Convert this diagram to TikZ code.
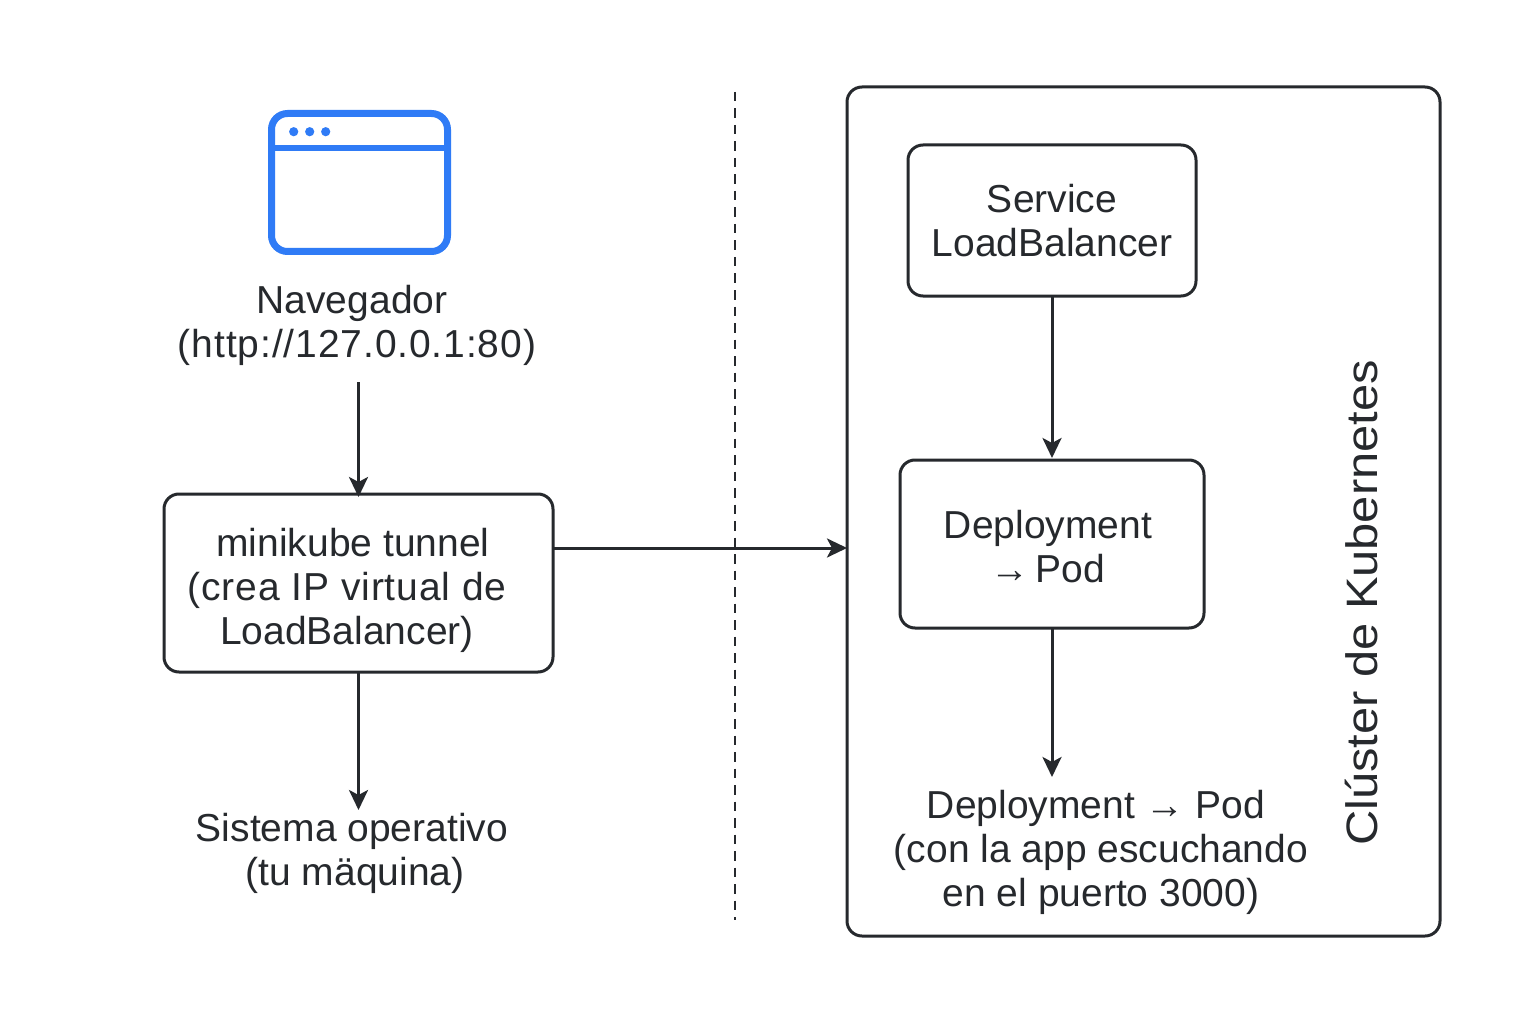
\documentclass[tikz,border=0pt]{standalone}
\usepackage{fontspec}
\usepackage{graphicx}
\setmainfont{Liberation Sans}
\usetikzlibrary{arrows.meta}
\definecolor{ink}{HTML}{26292D}
\definecolor{blu}{HTML}{2F7BF6}
\newcommand{\widened}[1]{{\addfontfeature{LetterSpace=2.3}#1}}
\tikzset{
  x=1pt,y=-1pt,
  boxed/.style={draw=ink,line width=3pt,rounded corners=15pt,inner sep=0pt,outer sep=0pt},
  lab/.style={font=\fontsize{39}{44}\selectfont,text=ink,align=center,inner sep=0pt},
  conn/.style={draw=ink,line width=3pt,-{Stealth[length=20pt,width=19pt,inset=5pt]}}
}
\begin{document}
\begin{tikzpicture}
\useasboundingbox (0,0) rectangle (1536,1024);
\fill[white] (0,0) rectangle (1536,1024);
% browser icon
\draw[draw=blu,line width=7pt,rounded corners=16pt] (271.5,113.5) rectangle (447.5,251.5);
\draw[draw=blu,line width=6.5pt] (271.5,148) -- (447.5,148);
\fill[blu] (293.7,131.7) circle (4.6) (309.7,131.7) circle (4.6) (325.7,131.7) circle (4.6);
% boxes
\node[boxed,minimum width=593pt,minimum height=849pt] (clubox) at (1143.5,511.5) {};
\node[boxed,minimum width=288pt,minimum height=151pt] (svcbox) at (1052,220.5) {};
\node[boxed,minimum width=304pt,minimum height=168pt] (depbox) at (1052,544) {};
\node[boxed,minimum width=389pt,minimum height=178pt] (tunbox) at (358.5,583) {};
% free ends of connectors
\coordinate (navS) at (358.5,382);
\coordinate (soN) at (358.5,810);
\coordinate (podN) at (1052,777);
\coordinate (lvl) at (735,548);
\coordinate (dashT) at (735,92);
\coordinate (dashB) at (735,920);
\draw[draw=ink,line width=2.4pt,dash pattern=on 9.5pt off 7pt] (dashT) -- (dashB);
\draw[conn,shorten >=-3pt] (navS) -- (tunbox.north);
\draw[conn] (tunbox.south) -- (soN);
\draw[conn] (tunbox.east |- lvl) -- (clubox.west |- lvl);
\draw[conn,shorten >=2pt] (svcbox.south) -- (depbox.north);
\draw[conn] (depbox.south) -- (podN);
\node[lab] (nav) at (357,325.5) {Navegador\hspace*{10pt}\\\widened{(http://127.0.0.1:80)}};
\node[lab] (tun) at (347,590) {\hspace*{12pt}minikube tunnel\\\widened{(crea IP virtual de}\\LoadBalancer)};
\node[lab] (so) at (352,853) {Sistema operativo\\\hspace*{6pt}(tu mäquina)};
\node[lab] (svc) at (1052,221) {Service\\LoadBalancer};
\node[lab] (dep) at (1048,547) {Deployment\\→\hspace{-5pt} Pod};
\node[lab] (pod) at (1101,852) {Deployment → Pod\hspace*{10pt}\\(con la app escuchando\\en el puerto 3000)};
\node[lab,rotate=90,font=\fontsize{44}{48}\selectfont] (kub) at (1361,603) {\scalebox{1.11}[1]{Clúster de Kubernetes}};
\end{tikzpicture}
\end{document}
